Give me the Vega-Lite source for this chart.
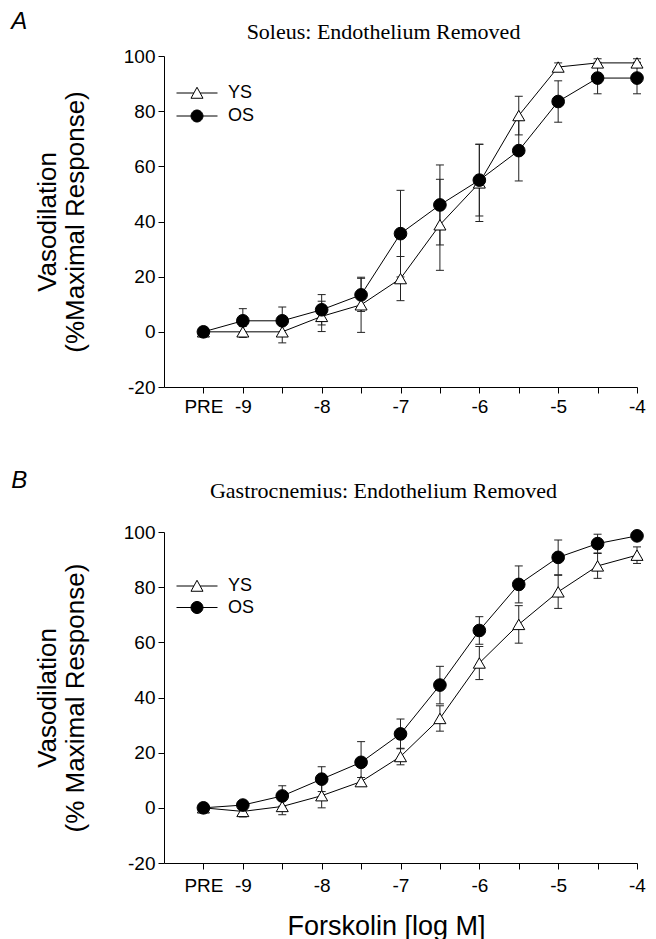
{
  "$schema": "https://vega.github.io/schema/vega-lite/v6.json",
  "padding": {"left": 11, "top": 10, "right": 10, "bottom": 2},
  "background": "white",
  "datasets": {
    "soleus": [
      {"x": -9.5, "group": "YS", "mean": 0, "se": 0.5},
      {"x": -9, "group": "YS", "mean": 0, "se": 2},
      {"x": -8.5, "group": "YS", "mean": 0, "se": 4},
      {"x": -8, "group": "YS", "mean": 5.6, "se": 5.5},
      {"x": -7.5, "group": "YS", "mean": 9.8, "se": 10},
      {"x": -7, "group": "YS", "mean": 19.3, "se": 8},
      {"x": -6.5, "group": "YS", "mean": 38.8, "se": 16.5},
      {"x": -6, "group": "YS", "mean": 54, "se": 14},
      {"x": -5.5, "group": "YS", "mean": 78.4, "se": 7},
      {"x": -5, "group": "YS", "mean": 96, "se": 1.5},
      {"x": -4.5, "group": "YS", "mean": 97.5, "se": 1.5},
      {"x": -4, "group": "YS", "mean": 97.5, "se": 1.5},
      {"x": -9.5, "group": "OS", "mean": 0, "se": 0.5},
      {"x": -9, "group": "OS", "mean": 4, "se": 4.4},
      {"x": -8.5, "group": "OS", "mean": 4, "se": 5},
      {"x": -8, "group": "OS", "mean": 8, "se": 5.5},
      {"x": -7.5, "group": "OS", "mean": 13.4, "se": 6},
      {"x": -7, "group": "OS", "mean": 35.6, "se": 15.7},
      {"x": -6.5, "group": "OS", "mean": 46, "se": 14.5},
      {"x": -6, "group": "OS", "mean": 55, "se": 13},
      {"x": -5.5, "group": "OS", "mean": 65.7, "se": 11},
      {"x": -5, "group": "OS", "mean": 83.5, "se": 7.5},
      {"x": -4.5, "group": "OS", "mean": 92, "se": 5.7},
      {"x": -4, "group": "OS", "mean": 92, "se": 5.7}
    ],
    "gastro": [
      {"x": -9.5, "group": "YS", "mean": 0, "se": 0.5},
      {"x": -9, "group": "YS", "mean": -1.3, "se": 2},
      {"x": -8.5, "group": "YS", "mean": 0.5, "se": 3},
      {"x": -8, "group": "YS", "mean": 4.4, "se": 4.4},
      {"x": -7.5, "group": "YS", "mean": 9.5, "se": 1.5},
      {"x": -7, "group": "YS", "mean": 18.6, "se": 3},
      {"x": -6.5, "group": "YS", "mean": 32.4, "se": 4.6},
      {"x": -6, "group": "YS", "mean": 52.5, "se": 6},
      {"x": -5.5, "group": "YS", "mean": 66.5, "se": 6.8},
      {"x": -5, "group": "YS", "mean": 78.3, "se": 6},
      {"x": -4.5, "group": "YS", "mean": 87.7, "se": 4.5},
      {"x": -4, "group": "YS", "mean": 91.6, "se": 3},
      {"x": -9.5, "group": "OS", "mean": 0, "se": 0.5},
      {"x": -9, "group": "OS", "mean": 1, "se": 1},
      {"x": -8.5, "group": "OS", "mean": 4.3, "se": 3.7},
      {"x": -8, "group": "OS", "mean": 10.4, "se": 4.5},
      {"x": -7.5, "group": "OS", "mean": 16.5, "se": 7.5},
      {"x": -7, "group": "OS", "mean": 26.8, "se": 5.4},
      {"x": -6.5, "group": "OS", "mean": 44.5, "se": 6.8},
      {"x": -6, "group": "OS", "mean": 64.3, "se": 5},
      {"x": -5.5, "group": "OS", "mean": 81, "se": 6.7},
      {"x": -5, "group": "OS", "mean": 90.8, "se": 6.3},
      {"x": -4.5, "group": "OS", "mean": 95.8, "se": 3.4},
      {"x": -4, "group": "OS", "mean": 98.6, "se": 1}
    ]
  },
  "spacing": 53,
  "resolve": {
    "scale": {"shape": "independent", "fill": "independent", "stroke": "independent"},
    "legend": {"shape": "independent", "fill": "independent", "stroke": "independent"}
  },
  "vconcat": [
    {
      "title": {"text": "A", "anchor": "start", "frame": "bounds", "font": "Liberation Sans", "fontSize": 24, "fontStyle": "italic", "fontWeight": "normal", "dx": -23, "offset": -13},
      "vconcat": [
        {
          "width": 473,
          "height": 331,
          "title": {"text": "Soleus: Endothelium Removed", "font": "Liberation Serif", "fontSize": 22, "fontWeight": "normal", "anchor": "middle", "frame": "group", "dx": -17, "offset": -14, "baseline": "alphabetic"},
          "data": {"name": "soleus"},
          "encoding": {
            "x": {"field": "x", "type": "quantitative", "scale": {"domain": [-10, -4], "nice": false, "zero": false},
              "axis": {"title": null, "values": [-9.5, -9, -8.5, -8, -7.5, -7, -6.5, -6, -5.5, -5, -4.5, -4],
                "labelExpr": "datum.value == -9.5 ? 'PRE' : (datum.value % 1 == 0 ? datum.value + '' : '')",
                "labelPadding": 4}},
            "y": {"field": "mean", "type": "quantitative", "scale": {"domain": [-20, 100], "nice": false, "zero": false},
              "axis": {"title": ["Vasodilation", "(%Maximal Response)"], "values": [-20, 0, 20, 40, 60, 80, 100], "labelExpr": "datum.value + ''"}}
          },
          "layer": [
            {"mark": {"type": "line", "color": "black", "strokeWidth": 1}, "encoding": {"detail": {"field": "group", "type": "nominal"}}},
            {"mark": {"type": "errorbar", "ticks": {"size": 8, "color": "#222", "thickness": 1, "opacity": 1}, "rule": {"color": "#222", "opacity": 1}, "color": "#222", "thickness": 1}, "encoding": {"yError": {"field": "se"}, "detail": {"field": "group", "type": "nominal"}}},
            {"transform": [{"filter": "datum.group == 'YS'"}], "mark": {"type": "point", "shape": "triangle-up", "size": 144, "filled": true, "fill": "white", "stroke": "black", "strokeWidth": 1, "opacity": 1}},
            {"transform": [{"filter": "datum.group == 'OS'"}], "mark": {"type": "point", "shape": "circle", "size": 160, "filled": true, "fill": "black", "stroke": "black", "strokeWidth": 1, "opacity": 1}},
            {"transform": [{"filter": "datum.group == 'legend-only'"}],
              "mark": {"type": "point", "filled": true, "strokeWidth": 1, "opacity": 1},
              "encoding": {
                "shape": {"field": "group", "type": "nominal", "scale": {"domain": ["YS", "OS"], "range": ["M-4.1,0H-0.63M0.63,0H4.1M0,-1.15L1.2,1.05L-1.2,1.05Z", "M-4.1,0H4.1M-1.2,0A1.2,1.2 0 1,0 1.2,0A1.2,1.2 0 1,0 -1.2,0Z"]},
                  "legend": {"orient": "none", "legendX": 24, "legendY": 28, "rowPadding": 5}},
                "fill": {"field": "group", "type": "nominal", "scale": {"domain": ["YS", "OS"], "range": ["white", "black"]}},
                "stroke": {"field": "group", "type": "nominal", "scale": {"domain": ["YS", "OS"], "range": ["black", "black"]}}
              }}
          ]
        }
      ]
    },
    {
      "title": {"text": "B", "anchor": "start", "frame": "bounds", "font": "Liberation Sans", "fontSize": 24, "fontStyle": "italic", "fontWeight": "normal", "dx": -23, "offset": -13},
      "vconcat": [
        {
          "width": 473,
          "height": 331,
          "title": {"text": "Gastrocnemius: Endothelium Removed", "font": "Liberation Serif", "fontSize": 22, "fontWeight": "normal", "anchor": "middle", "frame": "group", "dx": -17, "offset": 3, "baseline": "alphabetic"},
          "data": {"name": "gastro"},
          "encoding": {
            "x": {"field": "x", "type": "quantitative", "scale": {"domain": [-10, -4], "nice": false, "zero": false},
              "axis": {"title": "Forskolin [log M]", "values": [-9.5, -9, -8.5, -8, -7.5, -7, -6.5, -6, -5.5, -5, -4.5, -4],
                "labelExpr": "datum.value == -9.5 ? 'PRE' : (datum.value % 1 == 0 ? datum.value + '' : '')",
                "labelPadding": 7, "titlePadding": 18, "titleFontSize": 27, "titleX": 222}},
            "y": {"field": "mean", "type": "quantitative", "scale": {"domain": [-20, 100], "nice": false, "zero": false},
              "axis": {"title": ["Vasodilation", "(% Maximal Response)"], "values": [-20, 0, 20, 40, 60, 80, 100], "labelExpr": "datum.value + ''"}}
          },
          "layer": [
            {"mark": {"type": "line", "color": "black", "strokeWidth": 1}, "encoding": {"detail": {"field": "group", "type": "nominal"}}},
            {"mark": {"type": "errorbar", "ticks": {"size": 8, "color": "#222", "thickness": 1, "opacity": 1}, "rule": {"color": "#222", "opacity": 1}, "color": "#222", "thickness": 1}, "encoding": {"yError": {"field": "se"}, "detail": {"field": "group", "type": "nominal"}}},
            {"transform": [{"filter": "datum.group == 'YS'"}], "mark": {"type": "point", "shape": "triangle-up", "size": 144, "filled": true, "fill": "white", "stroke": "black", "strokeWidth": 1, "opacity": 1}},
            {"transform": [{"filter": "datum.group == 'OS'"}], "mark": {"type": "point", "shape": "circle", "size": 160, "filled": true, "fill": "black", "stroke": "black", "strokeWidth": 1, "opacity": 1}},
            {"transform": [{"filter": "datum.group == 'legend-only'"}],
              "mark": {"type": "point", "filled": true, "strokeWidth": 1, "opacity": 1},
              "encoding": {
                "shape": {"field": "group", "type": "nominal", "scale": {"domain": ["YS", "OS"], "range": ["M-4.1,0H-0.63M0.63,0H4.1M0,-1.15L1.2,1.05L-1.2,1.05Z", "M-4.1,0H4.1M-1.2,0A1.2,1.2 0 1,0 1.2,0A1.2,1.2 0 1,0 -1.2,0Z"]},
                  "legend": {"orient": "none", "legendX": 24, "legendY": 45, "rowPadding": 3.5}},
                "fill": {"field": "group", "type": "nominal", "scale": {"domain": ["YS", "OS"], "range": ["white", "black"]}},
                "stroke": {"field": "group", "type": "nominal", "scale": {"domain": ["YS", "OS"], "range": ["black", "black"]}}
              }}
          ]
        }
      ]
    }
  ],
  "config": {
    "font": "Liberation Sans",
    "view": {"stroke": null},
    "axis": {"grid": false, "domainColor": "black", "tickColor": "black", "labelColor": "black", "titleColor": "black",
      "labelFont": "Liberation Sans", "labelFontSize": 19, "titleFont": "Liberation Sans", "titleFontSize": 26, "titleFontWeight": "normal",
      "tickSize": 6, "labelOverlap": false, "labelFlush": false, "domainWidth": 1, "tickWidth": 1},
    "axisY": {"labelPadding": 3, "titlePadding": 35, "titleLineHeight": 28},
    "legend": {"title": null, "labelFont": "Liberation Sans", "labelFontSize": 18, "labelColor": "black", "symbolSize": 100, "symbolStrokeWidth": 1, "labelOffset": 22, "padding": 0}
  }
}
